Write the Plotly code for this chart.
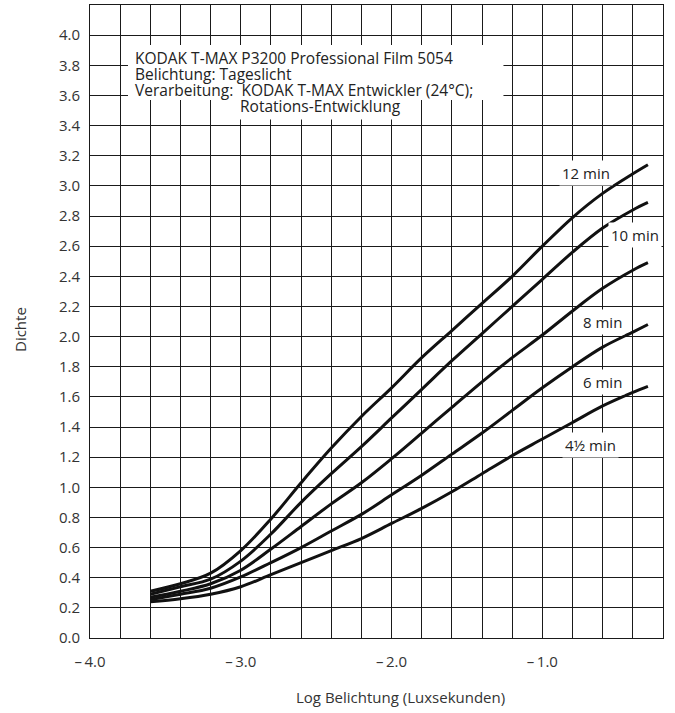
import plotly.graph_objects as go

log_exposure = [-3.6, -3.4, -3.2, -3.0, -2.8, -2.6, -2.4, -2.2, -2.0, -1.8,
                -1.6, -1.4, -1.2, -1.0, -0.8, -0.6, -0.4, -0.3]

density_12 = [0.31, 0.36, 0.43, 0.58, 0.79, 1.03, 1.26, 1.47, 1.66, 1.86,
              2.04, 2.22, 2.40, 2.60, 2.79, 2.95, 3.08, 3.14]
density_10 = [0.29, 0.34, 0.39, 0.51, 0.69, 0.90, 1.09, 1.27, 1.46, 1.65,
              1.84, 2.02, 2.20, 2.38, 2.56, 2.72, 2.84, 2.89]
density_8 = [0.27, 0.31, 0.36, 0.45, 0.59, 0.74, 0.89, 1.03, 1.19, 1.36,
             1.53, 1.70, 1.86, 2.01, 2.17, 2.32, 2.44, 2.49]
density_6 = [0.255, 0.29, 0.33, 0.405, 0.50, 0.60, 0.71, 0.82, 0.95, 1.08,
             1.22, 1.36, 1.51, 1.66, 1.80, 1.93, 2.03, 2.08]
density_45 = [0.24, 0.26, 0.29, 0.34, 0.42, 0.50, 0.58, 0.66, 0.76, 0.86,
              0.97, 1.09, 1.21, 1.32, 1.43, 1.54, 1.63, 1.67]

series_names = ["12 min", "10 min", "8 min", "6 min", "4\u00bd min"]
series_values = [density_12, density_10, density_8, density_6, density_45]

x_grid = [round(-4.0 + 0.2 * i, 1) for i in range(20)]
x_labels = {-4.0: "\u2013\u20094.0", -3.0: "\u2013\u20093.0",
            -2.0: "\u2013\u20092.0", -1.0: "\u2013\u20091.0"}
y_grid = [round(0.2 * i, 1) for i in range(21)]

FONT = "Open Sans"

fig = go.Figure()
for name, vals in zip(series_names, series_values):
    fig.add_trace(go.Scatter(x=log_exposure, y=vals, mode="lines", name=name,
                             line=dict(color="#111111", width=3, shape="spline",
                                       smoothing=1.0),
                             showlegend=False))

fig.update_xaxes(range=[-4.0, -0.2], tickvals=x_grid,
                 ticktext=[x_labels.get(v, "") for v in x_grid],
                 showgrid=True, gridcolor="#1a1a1a", gridwidth=1,
                 showline=True, linecolor="#1a1a1a", linewidth=1, mirror=True,
                 zeroline=False, ticks="", ticklabelstandoff=10,
                 tickfont=dict(family=FONT, size=15, color="#333333"))
fig.update_yaxes(range=[0, 4.2], tickvals=y_grid,
                 ticktext=[f"{v:.1f}" for v in y_grid],
                 showgrid=True, gridcolor="#1a1a1a", gridwidth=1,
                 showline=True, linecolor="#1a1a1a", linewidth=1, mirror=True,
                 zeroline=False, ticks="", ticklabelstandoff=6,
                 tickfont=dict(family=FONT, size=15, color="#333333"))

# white boxes behind the header text
fig.add_shape(type="rect", xref="x", yref="y", x0=-3.748, x1=-1.258,
              y0=3.569, y1=3.934, fillcolor="white", line_width=0, layer="between")
fig.add_shape(type="rect", xref="x", yref="y", x0=-3.11, x1=-1.95,
              y0=3.44, y1=3.57, fillcolor="white", line_width=0, layer="between")

header = [
    ("KODAK T-MAX P3200 Professional Film 5054", -3.715, 3.848),
    ("Belichtung: Tageslicht", -3.715, 3.742),
    ("Verarbeitung:  KODAK T-MAX Entwickler (24\u00b0C);", -3.715, 3.634),
    ("Rotations-Entwicklung", -3.02, 3.528),
]
for txt, hx, hy in header:
    fig.add_annotation(x=hx, y=hy, xref="x", yref="y", text=txt, showarrow=False,
                       xanchor="left", yanchor="middle",
                       font=dict(family=FONT, size=15.5, color="#222222"))

label_pos = [(-0.713, 3.085), (-0.388, 2.673), (-0.600, 2.096),
             (-0.600, 1.698), (-0.68, 1.280)]
for name, (lx, ly) in zip(series_names, label_pos):
    fig.add_annotation(x=lx, y=ly, xref="x", yref="y", text=name, showarrow=False,
                       bgcolor="white", borderpad=2,
                       font=dict(family=FONT, size=15, color="#222222"))

fig.add_annotation(x=(20 - 90) / 573, y=(638 - 330) / 633, xref="paper",
                   yref="paper", text="Dichte", showarrow=False, textangle=-90,
                   xanchor="center", yanchor="middle",
                   font=dict(family=FONT, size=15, color="#333333"))
fig.add_annotation(xref="x", yref="paper", x=-1.94, y=-(697 - 638) / 633,
                   text="Log Belichtung (Luxsekunden)", showarrow=False,
                   yanchor="middle",
                   font=dict(family=FONT, size=15, color="#333333"))

fig.update_layout(width=675, height=713,
                  margin=dict(l=90, r=12, t=5, b=75, autoexpand=False),
                  paper_bgcolor="white", plot_bgcolor="white")

fig.write_html("out.html")
